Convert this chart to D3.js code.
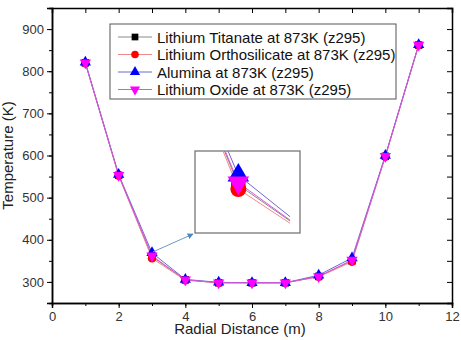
<!DOCTYPE html>
<html>
<head>
<meta charset="utf-8">
<script src="https://cdn.jsdelivr.net/npm/d3@7"></script>
<style>
  body { margin: 0; background: #fff; }
  svg { font-family: "Liberation Sans", Arial, sans-serif; }
  .axis text { fill: #333; font-size: 13px; }
  .axis path, .axis line { stroke: #000; }
</style>
</head>
<body>
<div id="chart"></div>
<script>
const radius = [1, 2, 3, 4, 5, 6, 7, 8, 9, 10, 11];
const titanate = [820, 553, 360, 305, 298, 298, 298, 313, 350, 598, 862];
const orthosilicate = [819, 552, 356, 304, 298, 298, 298, 312, 348, 597, 862];
const alumina = [821, 555, 369, 306, 299, 298, 298, 316, 357, 600, 863];
const oxide = [820, 553, 362, 305, 298, 298, 298, 313, 352, 598, 862];
const seriesNames = [
    'Lithium Titanate at 873K (z295)',
    'Lithium Orthosilicate at 873K (z295)',
    'Alumina at 873K (z295)',
    'Lithium Oxide at 873K (z295)'
];
const xTicks = [0, 2, 4, 6, 8, 10, 12];
const yTicks = [300, 400, 500, 600, 700, 800, 900];

const styles = [
    { line: '#8a8a8a', fill: '#000000', shape: d3.symbolSquare, rot: 0 },
    { line: '#f08a8a', fill: '#ff0000', shape: d3.symbolCircle, rot: 0 },
    { line: '#6a6ad0', fill: '#0000ff', shape: d3.symbolTriangle, rot: 0 },
    { line: '#e050e0', fill: '#ff00ff', shape: d3.symbolTriangle, rot: 180 }
];
const series = [titanate, orthosilicate, alumina, oxide].map((vals, i) => ({
    name: seriesNames[i],
    style: styles[i],
    points: radius.map((r, j) => ({ x: r, y: vals[j] }))
}));

const width = 461, height = 340;
const margin = { top: 8, left: 52, right: 9, bottom: 37 };
const innerWidth = width - margin.left - margin.right;
const innerHeight = height - margin.top - margin.bottom;

const xScale = d3.scaleLinear().domain([0, 12]).range([0, innerWidth]);
const yScale = d3.scaleLinear().domain([250, 950]).range([innerHeight, 0]);

const svg = d3.select('#chart').append('svg')
    .attr('width', width)
    .attr('height', height);
const g = svg.append('g').attr('transform', `translate(${margin.left},${margin.top})`);

// axes: bottom/left outward, top/right inward
const minorX = d3.range(0, 13, 1);
const minorY = d3.range(250, 951, 50);

g.append('g').attr('class', 'axis')
    .attr('transform', `translate(0,${innerHeight})`)
    .call(d3.axisBottom(xScale).tickValues(minorX).tickSize(3).tickFormat(''));
g.append('g').attr('class', 'axis')
    .attr('transform', `translate(0,${innerHeight})`)
    .call(d3.axisBottom(xScale).tickValues(xTicks).tickSize(5).tickPadding(4).tickFormat(d3.format('d')));
g.append('g').attr('class', 'axis')
    .call(d3.axisTop(xScale).tickValues(minorX).tickSize(-5).tickFormat(''));
g.append('g').attr('class', 'axis')
    .call(d3.axisLeft(yScale).tickValues(minorY).tickSize(3).tickFormat(''));
g.append('g').attr('class', 'axis')
    .call(d3.axisLeft(yScale).tickValues(yTicks).tickSize(5).tickPadding(3).tickFormat(d3.format('d')));
g.append('g').attr('class', 'axis')
    .attr('transform', `translate(${innerWidth},0)`)
    .call(d3.axisRight(yScale).tickValues(minorY).tickSize(-5).tickFormat(''));
g.selectAll('.axis path').attr('stroke-width', 1.5);
// drop the empty labels of the unlabeled tick sets
g.selectAll('.axis text').filter(function() { return this.textContent === ''; }).remove();

g.append('text')
    .attr('x', innerWidth / 2 - 12)
    .attr('y', innerHeight + 31)
    .attr('text-anchor', 'middle')
    .attr('font-size', 15)
    .attr('fill', '#222')
    .text('Radial Distance (m)');
g.append('text')
    .attr('transform', `translate(${-39},${innerHeight / 2}) rotate(-90)`)
    .attr('text-anchor', 'middle')
    .attr('font-size', 15)
    .attr('fill', '#222')
    .text('Temperature (K)');

const drawSeries = (parent, xs, ys, size) => {
    const line = d3.line().x(d => xs(d.x)).y(d => ys(d.y));
    series.forEach(s => {
        parent.append('path')
            .attr('d', line(s.points))
            .attr('fill', 'none')
            .attr('stroke', s.style.line)
            .attr('stroke-width', 1);
    });
    series.forEach(s => {
        parent.selectAll(null)
            .data(s.points)
            .join('path')
                .attr('d', d3.symbol().type(s.style.shape).size(size))
                .attr('transform', d => `translate(${xs(d.x)},${ys(d.y)}) rotate(${s.style.rot})`)
                .attr('fill', s.style.fill);
    });
};

drawSeries(g, xScale, yScale, 55);

// inset zoom around x = 3
const inset = { x: 143, y: 143, w: 105, h: 82 };
const xIn = d3.scaleLinear().domain([2.48, 3.62]).range([inset.x, inset.x + 95]);
const yIn = d3.scaleLinear().domain([314.5, 392]).range([inset.y + inset.h, inset.y]);

svg.append('defs').append('clipPath').attr('id', 'insetClip')
    .append('rect')
    .attr('x', inset.x).attr('y', inset.y)
    .attr('width', 95).attr('height', inset.h);

g.append('rect')
    .attr('x', inset.x).attr('y', inset.y)
    .attr('width', inset.w).attr('height', inset.h)
    .attr('fill', '#fff')
    .attr('stroke', '#777')
    .attr('stroke-width', 1.3);
const insetG = g.append('g').attr('clip-path', 'url(#insetClip)');
drawSeries(insetG, xIn, yIn, 200);

// arrow from point to inset
svg.select('defs').append('marker')
    .attr('id', 'arrow')
    .attr('viewBox', '0 0 10 10')
    .attr('refX', 9).attr('refY', 5)
    .attr('markerWidth', 6).attr('markerHeight', 6)
    .attr('orient', 'auto')
    .append('path')
    .attr('d', 'M0,0L10,5L0,10z')
    .attr('fill', '#4f86c0');
g.append('line')
    .attr('x1', xScale(3) + 1).attr('y1', yScale(alumina[2]) - 1)
    .attr('x2', inset.x - 2).attr('y2', inset.y + inset.h + 1)
    .attr('stroke', '#6a9ac8')
    .attr('stroke-width', 1)
    .attr('marker-end', 'url(#arrow)');

// legend
const legend = g.append('g').attr('transform', 'translate(58,16)');
legend.append('rect')
    .attr('width', 286).attr('height', 75)
    .attr('fill', '#fff')
    .attr('stroke', '#555')
    .attr('stroke-width', 1);
series.forEach((s, i) => {
    const row = legend.append('g').attr('transform', `translate(0,${13 + i * 17.5})`);
    row.append('line')
        .attr('x1', 8).attr('x2', 42)
        .attr('stroke', s.style.line)
        .attr('stroke-width', 1);
    row.append('path')
        .attr('d', d3.symbol().type(s.style.shape).size(45))
        .attr('transform', `translate(25,0) rotate(${s.style.rot})`)
        .attr('fill', s.style.fill);
    row.append('text')
        .attr('x', 47)
        .attr('y', 5.5)
        .attr('font-size', 15)
        .attr('fill', '#111')
        .text(s.name);
});
</script>
</body>
</html>
